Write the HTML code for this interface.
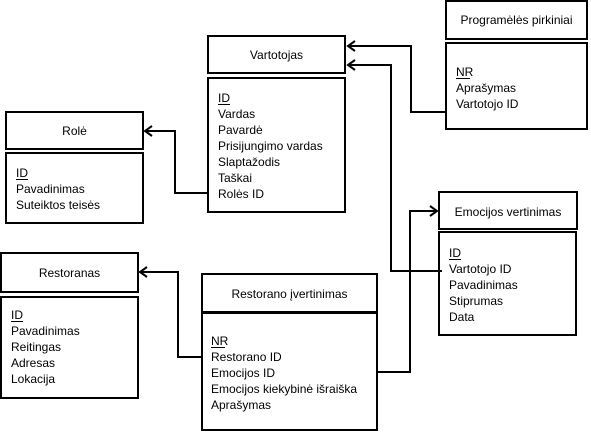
<!DOCTYPE html>
<html><head><meta charset="utf-8"><style>
html,body{margin:0;padding:0;background:#fff;width:591px;height:432px;overflow:hidden}
text{font-family:"Liberation Sans","DejaVu Sans",sans-serif;font-size:12px;fill:#000}
</style></head><body>
<svg width="591" height="432" viewBox="0 0 591 432" xmlns="http://www.w3.org/2000/svg">
<g fill="none" stroke="#000" stroke-width="2">
<!-- Vartotojas -->
<rect x="208" y="36" width="137" height="37"/>
<rect x="208" y="78" width="137" height="134"/>
<!-- Role -->
<rect x="6" y="112" width="137" height="37"/>
<rect x="6" y="153" width="137" height="70"/>
<!-- Programeles -->
<rect x="446" y="1" width="141" height="38"/>
<rect x="446" y="43" width="141" height="86"/>
<!-- Emocijos -->
<rect x="439" y="192" width="138" height="37"/>
<rect x="439" y="232" width="137" height="103"/>
<!-- Restoranas -->
<rect x="1" y="253" width="137" height="39"/>
<rect x="1" y="297" width="137" height="101"/>
<!-- Restorano ivertinimas -->
<rect x="202" y="274" width="175" height="38"/>
<rect x="202" y="313" width="175" height="117"/>
<!-- connectors -->
<polyline points="446,112 411,112 411,46 348,46"/>
<polyline points="355,41 348,46 355,51"/>
<polyline points="442,271 391,271 391,65 348,65"/>
<polyline points="355,60 348,65 355,70"/>
<polyline points="208,193 175,193 175,131 145,131"/>
<polyline points="152,126 145,131 152,136"/>
<polyline points="202,357 178,357 178,272 140,272"/>
<polyline points="147,267 140,272 147,277"/>
<polyline points="377,372 410,372 410,211 437,211"/>
<polyline points="430,206 437,211 430,216"/>
</g>
<g stroke="#000" stroke-width="1">
<line x1="218" y1="104.5" x2="230" y2="104.5"/>
<line x1="16" y1="179.5" x2="28" y2="179.5"/>
<line x1="456" y1="78.5" x2="470" y2="78.5"/>
<line x1="449" y1="259.5" x2="461" y2="259.5"/>
<line x1="11" y1="321.5" x2="23" y2="321.5"/>
<line x1="211" y1="347.5" x2="225" y2="347.5"/>
</g>
<text x="276.5" y="59" text-anchor="middle">Vartotojas</text>
<text x="74.5" y="135" text-anchor="middle">Rolė</text>
<text x="516.5" y="24" text-anchor="middle">Programėlės pirkiniai</text>
<text x="508" y="216" text-anchor="middle">Emocijos vertinimas</text>
<text x="69.5" y="277" text-anchor="middle">Restoranas</text>
<text x="289.5" y="298" text-anchor="middle">Restorano įvertinimas</text>
<g>
<text x="218" y="102">ID</text><text x="218" y="118">Vardas</text><text x="218" y="134">Pavardė</text><text x="218" y="150">Prisijungimo vardas</text><text x="218" y="166">Slaptažodis</text><text x="218" y="182">Taškai</text><text x="218" y="198">Rolės ID</text>
<text x="16" y="177">ID</text><text x="16" y="193">Pavadinimas</text><text x="16" y="209">Suteiktos teisės</text>
<text x="456" y="76">NR</text><text x="456" y="92">Aprašymas</text><text x="456" y="108">Vartotojo ID</text>
<text x="449" y="257">ID</text><text x="449" y="273">Vartotojo ID</text><text x="449" y="289">Pavadinimas</text><text x="449" y="305">Stiprumas</text><text x="449" y="321">Data</text>
<text x="11" y="319">ID</text><text x="11" y="335">Pavadinimas</text><text x="11" y="351">Reitingas</text><text x="11" y="367">Adresas</text><text x="11" y="383">Lokacija</text>
<text x="211" y="345">NR</text><text x="211" y="361">Restorano ID</text><text x="211" y="377">Emocijos ID</text><text x="211" y="393">Emocijos kiekybinė išraiška</text><text x="211" y="409">Aprašymas</text>
</g>
</svg>
</body></html>
